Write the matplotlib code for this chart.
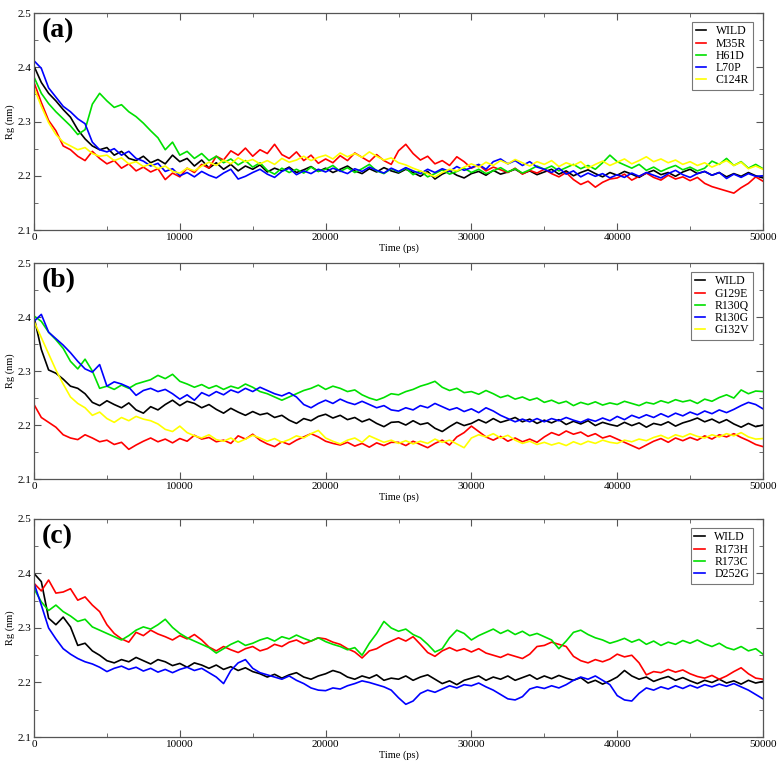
import matplotlib
matplotlib.use("Agg")
import matplotlib.pyplot as plt
import numpy as np
from matplotlib.ticker import MultipleLocator

plt.rcParams['font.family'] = ['Liberation Serif', 'DejaVu Serif']

# čas (ps), krok 500 ps
time_ps = np.arange(0, 50001, 500)

# ---- panel (a) ----
a_wild = [2.402, 2.372, 2.352, 2.338, 2.322, 2.308, 2.285, 2.268, 2.255, 2.248,
          2.252, 2.238, 2.245, 2.232, 2.228, 2.236, 2.224, 2.230, 2.222, 2.238,
          2.226, 2.232, 2.218, 2.229, 2.214, 2.224, 2.212, 2.221, 2.209, 2.218,
          2.212, 2.220, 2.207, 2.214, 2.209, 2.216, 2.206, 2.211, 2.217, 2.208,
          2.214, 2.206, 2.212, 2.218, 2.209, 2.204, 2.213, 2.207, 2.215, 2.209,
          2.205, 2.212, 2.206, 2.199, 2.208, 2.194, 2.203, 2.209, 2.201, 2.196,
          2.204, 2.208, 2.201, 2.210, 2.203, 2.207, 2.212, 2.204, 2.209, 2.202,
          2.207, 2.212, 2.203, 2.209, 2.200, 2.206, 2.211, 2.204, 2.198, 2.206,
          2.201, 2.208, 2.203, 2.197, 2.205, 2.210, 2.202, 2.206, 2.199, 2.207,
          2.212, 2.204, 2.208, 2.201, 2.206, 2.198, 2.204, 2.199, 2.206, 2.200,
          2.196]
a_m35r = [2.372, 2.335, 2.302, 2.283, 2.255, 2.248, 2.236, 2.228, 2.245, 2.232,
          2.222, 2.228, 2.214, 2.222, 2.209, 2.216, 2.207, 2.213, 2.193, 2.205,
          2.198, 2.214, 2.206, 2.221, 2.214, 2.236, 2.229, 2.246, 2.238, 2.251,
          2.236, 2.248, 2.241, 2.258, 2.239, 2.232, 2.244, 2.228, 2.238, 2.223,
          2.231, 2.224, 2.237, 2.228, 2.242, 2.234, 2.226, 2.239, 2.228, 2.221,
          2.246, 2.258, 2.241, 2.229, 2.236, 2.222, 2.228, 2.219, 2.235, 2.226,
          2.214, 2.220, 2.209, 2.216, 2.211, 2.206, 2.214, 2.203, 2.210, 2.205,
          2.212, 2.204, 2.198, 2.206, 2.193, 2.184, 2.190, 2.179, 2.188, 2.194,
          2.196, 2.203, 2.192, 2.199, 2.205, 2.197, 2.192, 2.201, 2.194, 2.198,
          2.191, 2.197, 2.186, 2.180, 2.176, 2.172, 2.168, 2.178, 2.186, 2.198,
          2.190]
a_h61d = [2.382, 2.352, 2.333, 2.318, 2.305, 2.292, 2.276, 2.285, 2.332, 2.352,
          2.338, 2.326, 2.331, 2.318, 2.309, 2.297, 2.283, 2.270, 2.248, 2.262,
          2.238, 2.245, 2.232, 2.241, 2.228, 2.236, 2.224, 2.231, 2.220, 2.228,
          2.216, 2.224, 2.210, 2.203, 2.214, 2.206, 2.212, 2.205, 2.216, 2.208,
          2.212, 2.219, 2.208, 2.215, 2.206, 2.213, 2.221, 2.209, 2.204, 2.213,
          2.207, 2.214, 2.202, 2.209, 2.198, 2.204, 2.211, 2.203, 2.208, 2.214,
          2.206, 2.212, 2.204, 2.209, 2.215, 2.207, 2.213, 2.205, 2.211, 2.218,
          2.212, 2.218, 2.209, 2.215, 2.221, 2.213, 2.219, 2.212, 2.224, 2.238,
          2.226, 2.220, 2.214, 2.221, 2.210, 2.216, 2.208, 2.214, 2.219, 2.211,
          2.216, 2.209, 2.214, 2.227, 2.221, 2.232, 2.219, 2.226, 2.214, 2.221,
          2.213]
a_l70p = [2.412, 2.398, 2.362, 2.345, 2.328, 2.318, 2.305, 2.296, 2.262, 2.248,
          2.244, 2.250, 2.238, 2.245, 2.232, 2.227, 2.218, 2.223, 2.208, 2.213,
          2.200, 2.206, 2.198, 2.208, 2.201, 2.196, 2.205, 2.212, 2.194, 2.199,
          2.206, 2.212, 2.203, 2.197, 2.208, 2.214, 2.202, 2.209, 2.204, 2.212,
          2.207, 2.214, 2.209, 2.204, 2.213, 2.208, 2.216, 2.210, 2.205, 2.214,
          2.208, 2.215, 2.209, 2.204, 2.212, 2.206, 2.213, 2.208, 2.217, 2.210,
          2.215, 2.221, 2.212, 2.226, 2.231, 2.222, 2.228, 2.219, 2.226, 2.216,
          2.212, 2.206, 2.214, 2.203, 2.209, 2.198, 2.205, 2.199, 2.204, 2.196,
          2.202, 2.197, 2.205, 2.199, 2.206, 2.201, 2.196, 2.204, 2.210, 2.202,
          2.197, 2.204, 2.208, 2.201, 2.206, 2.195, 2.203, 2.197, 2.204, 2.199,
          2.200]
a_c124r = [2.362, 2.328, 2.298, 2.276, 2.262, 2.255, 2.248, 2.252, 2.241, 2.236,
           2.238, 2.228, 2.233, 2.222, 2.226, 2.217, 2.222, 2.213, 2.218, 2.208,
           2.205, 2.214, 2.209, 2.218, 2.225, 2.219, 2.229, 2.222, 2.233, 2.226,
           2.230, 2.222, 2.228, 2.221, 2.232, 2.225, 2.229, 2.236, 2.228, 2.234,
           2.238, 2.231, 2.242, 2.235, 2.241, 2.234, 2.244, 2.236, 2.229, 2.233,
           2.224, 2.220, 2.214, 2.209, 2.204, 2.198, 2.206, 2.212, 2.209, 2.216,
           2.222, 2.216, 2.225, 2.219, 2.228, 2.222, 2.230, 2.224, 2.218, 2.226,
           2.221, 2.228, 2.217, 2.224, 2.219, 2.226, 2.214, 2.221, 2.227, 2.219,
           2.225, 2.231, 2.222, 2.228, 2.235, 2.226, 2.231, 2.224, 2.229, 2.221,
           2.226, 2.219, 2.224, 2.216, 2.222, 2.228, 2.219, 2.225, 2.213, 2.218,
           2.212]

# ---- panel (b) ----
b_wild = [2.400, 2.340, 2.302, 2.296, 2.285, 2.272, 2.268, 2.258, 2.242, 2.236,
          2.245, 2.238, 2.232, 2.241, 2.228, 2.222, 2.234, 2.228, 2.238, 2.246,
          2.236, 2.244, 2.240, 2.232, 2.238, 2.229, 2.222, 2.231, 2.224, 2.218,
          2.225, 2.219, 2.222, 2.214, 2.218, 2.209, 2.203, 2.212, 2.208, 2.216,
          2.220, 2.213, 2.218, 2.210, 2.214, 2.206, 2.211, 2.203, 2.197, 2.205,
          2.206, 2.200, 2.208, 2.201, 2.204, 2.194, 2.188, 2.197, 2.205, 2.199,
          2.203, 2.210, 2.204, 2.212, 2.205, 2.209, 2.214, 2.206, 2.211, 2.203,
          2.209, 2.204, 2.210, 2.201, 2.207, 2.202, 2.208, 2.199, 2.205, 2.201,
          2.198, 2.205, 2.199, 2.204, 2.196, 2.203, 2.200, 2.206, 2.198, 2.204,
          2.208, 2.213, 2.206, 2.211, 2.204, 2.210, 2.202, 2.196, 2.203, 2.197,
          2.200]
b_g129e = [2.238, 2.214, 2.205, 2.196, 2.182, 2.176, 2.173, 2.182, 2.176, 2.169,
           2.172, 2.164, 2.168, 2.155, 2.163, 2.170, 2.176, 2.169, 2.174, 2.167,
           2.175, 2.170, 2.181, 2.174, 2.177, 2.169, 2.172, 2.166, 2.180, 2.174,
           2.183, 2.172, 2.165, 2.160, 2.169, 2.164, 2.172, 2.178, 2.184, 2.178,
           2.170, 2.166, 2.163, 2.168, 2.161, 2.166, 2.159, 2.167, 2.162, 2.168,
           2.168, 2.162, 2.170, 2.164, 2.158, 2.166, 2.172, 2.163, 2.178, 2.186,
           2.198, 2.188, 2.178, 2.172, 2.179, 2.170, 2.176, 2.169, 2.174, 2.168,
           2.178, 2.186, 2.181, 2.189, 2.183, 2.187, 2.179, 2.184, 2.176, 2.180,
           2.174, 2.168, 2.162, 2.156, 2.163, 2.170, 2.175, 2.168, 2.176, 2.171,
           2.177, 2.172, 2.180, 2.174, 2.182, 2.178, 2.184, 2.177, 2.171, 2.164,
           2.160]
b_r130q = [2.402, 2.392, 2.372, 2.358, 2.342, 2.318, 2.304, 2.322, 2.300, 2.268,
           2.272, 2.266, 2.274, 2.268, 2.276, 2.280, 2.284, 2.292, 2.286, 2.294,
           2.281, 2.276, 2.270, 2.275, 2.268, 2.273, 2.266, 2.272, 2.268, 2.276,
           2.270, 2.262, 2.258, 2.252, 2.246, 2.252, 2.258, 2.264, 2.268, 2.274,
           2.266, 2.272, 2.268, 2.262, 2.265, 2.256, 2.250, 2.246, 2.251, 2.258,
           2.256, 2.262, 2.266, 2.272, 2.276, 2.281, 2.270, 2.264, 2.268, 2.260,
           2.262, 2.257, 2.264, 2.258, 2.251, 2.255, 2.248, 2.252, 2.246, 2.250,
           2.242, 2.246, 2.240, 2.244, 2.236, 2.242, 2.238, 2.243, 2.237, 2.241,
           2.238, 2.244, 2.240, 2.236, 2.242, 2.239, 2.245, 2.241, 2.247, 2.243,
           2.246, 2.240, 2.248, 2.244, 2.251, 2.256, 2.250, 2.265, 2.258, 2.263,
           2.262]
b_r130g = [2.392, 2.405, 2.372, 2.360, 2.348, 2.334, 2.318, 2.304, 2.298, 2.312,
           2.272, 2.280, 2.276, 2.270, 2.255, 2.264, 2.268, 2.262, 2.266, 2.258,
           2.248, 2.256, 2.246, 2.260, 2.254, 2.262, 2.256, 2.265, 2.260, 2.268,
           2.262, 2.270, 2.264, 2.258, 2.254, 2.260, 2.252, 2.238, 2.232, 2.240,
           2.246, 2.240, 2.248, 2.242, 2.238, 2.244, 2.238, 2.232, 2.236, 2.228,
           2.226, 2.232, 2.228, 2.236, 2.232, 2.240, 2.234, 2.228, 2.232, 2.225,
           2.230, 2.223, 2.232, 2.226, 2.218, 2.212, 2.206, 2.211, 2.206, 2.212,
           2.206, 2.212, 2.208, 2.214, 2.209, 2.205, 2.211, 2.207, 2.213, 2.208,
           2.216, 2.210, 2.218, 2.213, 2.219, 2.214, 2.221, 2.215, 2.222, 2.217,
           2.224, 2.219, 2.226, 2.221, 2.228, 2.223, 2.229, 2.236, 2.242, 2.238,
           2.230]
b_g132v = [2.392, 2.362, 2.332, 2.302, 2.276, 2.252, 2.240, 2.232, 2.218, 2.224,
           2.212, 2.205, 2.214, 2.208, 2.216, 2.211, 2.208, 2.202, 2.192, 2.188,
           2.198, 2.186, 2.180, 2.176, 2.182, 2.173, 2.170, 2.176, 2.168, 2.174,
           2.181, 2.176, 2.170, 2.175, 2.168, 2.173, 2.180, 2.176, 2.184, 2.190,
           2.176, 2.170, 2.165, 2.172, 2.176, 2.168, 2.180, 2.174, 2.168, 2.172,
           2.166, 2.171, 2.165, 2.170, 2.166, 2.174, 2.168, 2.172, 2.165, 2.158,
           2.176, 2.182, 2.178, 2.184, 2.176, 2.181, 2.172, 2.166, 2.170, 2.164,
           2.168, 2.163, 2.167, 2.162, 2.169, 2.164, 2.170, 2.166, 2.172, 2.168,
           2.166, 2.172, 2.169, 2.174, 2.171, 2.177, 2.181, 2.175, 2.182, 2.178,
           2.184, 2.179, 2.176, 2.182, 2.178, 2.184, 2.180, 2.186, 2.178, 2.174,
           2.175]

# ---- panel (c) ----
c_wild = [2.400, 2.385, 2.318, 2.306, 2.320, 2.302, 2.268, 2.272, 2.258, 2.250,
          2.240, 2.236, 2.242, 2.238, 2.246, 2.240, 2.234, 2.242, 2.238, 2.231,
          2.235, 2.228, 2.236, 2.232, 2.226, 2.232, 2.224, 2.229, 2.222, 2.227,
          2.220, 2.216, 2.210, 2.215, 2.208, 2.214, 2.218, 2.210, 2.206, 2.212,
          2.216, 2.222, 2.218, 2.210, 2.206, 2.212, 2.208, 2.214, 2.204, 2.208,
          2.206, 2.212, 2.204, 2.210, 2.214, 2.206, 2.198, 2.203, 2.196, 2.204,
          2.208, 2.212, 2.204, 2.210, 2.206, 2.212, 2.204, 2.209, 2.214, 2.206,
          2.212, 2.207, 2.213, 2.208, 2.204, 2.209, 2.199, 2.204, 2.197, 2.203,
          2.210, 2.222, 2.212, 2.206, 2.210, 2.202, 2.207, 2.211, 2.204, 2.209,
          2.203, 2.198, 2.204, 2.200, 2.206, 2.199, 2.203, 2.197, 2.204, 2.199,
          2.202]
c_r173h = [2.382, 2.368, 2.388, 2.364, 2.366, 2.372, 2.351, 2.357, 2.342, 2.330,
           2.306, 2.290, 2.280, 2.274, 2.292, 2.286, 2.296, 2.289, 2.284, 2.278,
           2.286, 2.280, 2.288, 2.278, 2.265, 2.258, 2.266, 2.260, 2.255, 2.262,
           2.266, 2.258, 2.262, 2.270, 2.266, 2.274, 2.278, 2.271, 2.276, 2.282,
           2.280, 2.274, 2.270, 2.262, 2.256, 2.245, 2.258, 2.262, 2.270, 2.276,
           2.282, 2.276, 2.284, 2.270, 2.255, 2.248, 2.258, 2.264, 2.258, 2.262,
           2.256, 2.262, 2.254, 2.250, 2.246, 2.252, 2.248, 2.244, 2.252, 2.266,
           2.268, 2.274, 2.270, 2.266, 2.248, 2.240, 2.236, 2.242, 2.238, 2.243,
           2.252, 2.247, 2.250, 2.236, 2.214, 2.220, 2.218, 2.224, 2.219, 2.223,
           2.216, 2.211, 2.208, 2.213, 2.206, 2.212, 2.220, 2.227, 2.216, 2.208,
           2.206]
c_r173c = [2.372, 2.348, 2.332, 2.342, 2.330, 2.322, 2.312, 2.316, 2.302, 2.296,
           2.290, 2.284, 2.278, 2.286, 2.296, 2.302, 2.298, 2.306, 2.316, 2.301,
           2.290, 2.282, 2.276, 2.270, 2.264, 2.254, 2.262, 2.270, 2.276, 2.268,
           2.272, 2.278, 2.282, 2.276, 2.284, 2.280, 2.287, 2.281, 2.276, 2.282,
           2.275, 2.270, 2.266, 2.260, 2.264, 2.250, 2.272, 2.290, 2.312, 2.300,
           2.294, 2.298, 2.288, 2.282, 2.270, 2.256, 2.262, 2.282, 2.296, 2.290,
           2.278, 2.286, 2.292, 2.298, 2.290, 2.296, 2.288, 2.294, 2.286, 2.290,
           2.284, 2.278, 2.262, 2.276, 2.292, 2.296, 2.288, 2.282, 2.278, 2.272,
           2.276, 2.281, 2.274, 2.279, 2.270, 2.276, 2.268, 2.274, 2.270, 2.277,
           2.272, 2.278, 2.271, 2.266, 2.272, 2.264, 2.260, 2.266, 2.258, 2.262,
           2.252]
c_d252g = [2.382, 2.342, 2.300, 2.280, 2.262, 2.252, 2.244, 2.238, 2.234, 2.228,
           2.220, 2.226, 2.230, 2.224, 2.228, 2.221, 2.226, 2.219, 2.224, 2.218,
           2.224, 2.228, 2.222, 2.226, 2.218, 2.210, 2.198, 2.222, 2.236, 2.242,
           2.226, 2.218, 2.214, 2.210, 2.206, 2.212, 2.204, 2.198, 2.190, 2.186,
           2.185, 2.190, 2.188, 2.194, 2.198, 2.203, 2.200, 2.196, 2.192, 2.186,
           2.172, 2.160, 2.166, 2.180, 2.186, 2.182, 2.188, 2.194, 2.190, 2.196,
           2.194, 2.199, 2.192, 2.186, 2.178, 2.170, 2.168, 2.174, 2.188, 2.192,
           2.189, 2.194, 2.190, 2.196, 2.204, 2.210, 2.206, 2.212, 2.204, 2.196,
           2.176, 2.168, 2.166, 2.180, 2.190, 2.186, 2.192, 2.188, 2.194, 2.189,
           2.195, 2.190, 2.196, 2.192, 2.197, 2.193, 2.198, 2.192, 2.186, 2.178,
           2.170]

panels = [
    ('(a)', [('WILD', a_wild), ('M35R', a_m35r), ('H61D', a_h61d),
             ('L70P', a_l70p), ('C124R', a_c124r)]),
    ('(b)', [('WILD', b_wild), ('G129E', b_g129e), ('R130Q', b_r130q),
             ('R130G', b_r130g), ('G132V', b_g132v)]),
    ('(c)', [('WILD', c_wild), ('R173H', c_r173h), ('R173C', c_r173c),
             ('D252G', c_d252g)]),
]
colors = ['black', 'red', '#00e000', 'blue', '#ffff00']

fig = plt.figure(figsize=(7.84, 7.74), dpi=100)
# pozice os [left, bottom, width, height]
positions = [[0.0434, 0.7028, 0.9298, 0.2804],
             [0.0434, 0.3811, 0.9298, 0.2790],
             [0.0434, 0.0478, 0.9298, 0.2817]]

for (tag, series), pos in zip(panels, positions):
    ax = fig.add_axes(pos)
    for (name, vals), col in zip(series, colors):
        ax.plot(time_ps, vals, color=col, lw=1.2, label=name)
    ax.set_xlim(0, 50000)
    ax.set_ylim(2.1, 2.5)
    ax.xaxis.set_major_locator(MultipleLocator(10000))
    ax.xaxis.set_minor_locator(MultipleLocator(5000))
    ax.yaxis.set_major_locator(MultipleLocator(0.1))
    ax.yaxis.set_minor_locator(MultipleLocator(0.05))
    ax.tick_params(which='both', direction='in', top=True, right=True,
                   labelsize=8, color='#555555', pad=2)
    ax.tick_params(which='major', length=5)
    ax.tick_params(which='minor', length=3)
    for sp in ax.spines.values():
        sp.set_color('#555555')
        sp.set_linewidth(0.9)
    ax.set_xlabel('Time (ps)', fontsize=7.5, labelpad=1)
    ax.set_ylabel('Rg (nm)', fontsize=7.5, labelpad=2)
    ax.text(0.011, 0.92, tag, transform=ax.transAxes, fontsize=20,
            fontweight='bold', va='center', ha='left')
    leg = ax.legend(loc='upper right', bbox_to_anchor=(0.986, 0.959),
                    borderaxespad=0, fontsize=8.5, handlelength=0.9,
                    handletextpad=0.8, labelspacing=0.02, fancybox=False,
                    borderpad=0.3)
    leg.get_frame().set_edgecolor('#555555')
    leg.get_frame().set_linewidth(0.8)

fig.savefig('out.png', dpi=100)
